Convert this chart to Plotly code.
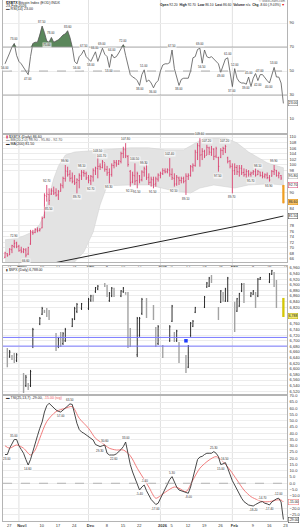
import plotly.graph_objects as go
import pandas as pd

# ------------------------------------------------------------------ data
START = "2025-10-26"
days = pd.date_range(START, periods=121, freq="D")
holidays = ["2025-11-27", "2025-12-25", "2026-01-01", "2026-01-19", "2026-02-16"]
trade_days = [d for d in pd.bdate_range("2025-10-27", "2026-02-23")
              if d.strftime("%Y-%m-%d") not in holidays]

tick_dates = ["2025-10-27", "2025-11-01", "2025-11-03", "2025-11-10", "2025-11-17",
              "2025-11-24", "2025-12-01", "2025-12-08", "2025-12-15", "2025-12-22",
              "2026-01-01", "2026-01-05", "2026-01-12", "2026-01-19", "2026-01-26",
              "2026-02-01", "2026-02-09", "2026-02-16", "2026-02-23"]
tick_text = ["27", "<b>Nov</b>", "3", "10", "17", "24", "<b>Dec</b>", "8", "15", "22",
             "<b>2026</b>", "5", "12", "19", "26", "<b>Feb</b>", "9", "16", "23"]
month_starts = ["2025-11-01", "2025-12-01", "2026-01-01", "2026-02-01"]

rsi_values = [56, 60, 65, 70, 73, 63, 58, 56, 53, 50,
              47, 62, 73, 74, 74, 80, 87.5, 82, 75, 74,
              78, 74, 75, 76, 78, 80, 81, 83.6, 78, 70,
              58, 56, 62, 64, 67.5, 62, 60, 58, 62, 66,
              58, 63, 69, 64, 62, 53, 64, 61, 62, 65,
              69, 72, 63, 55, 47, 45, 44, 42, 38, 47,
              51, 41, 42.5, 40, 36, 40, 42, 50, 55, 56,
              56, 57, 67.5, 52, 44, 38, 43, 44, 44, 44,
              50, 61, 62, 68, 69, 56.5, 67.5, 62, 61, 62,
              60, 58, 56, 49, 55, 60, 61, 50, 37, 52,
              44, 41, 40, 40, 39, 45, 37, 44, 48, 42,
              47, 47, 44, 42, 40, 47, 53, 45, 45, 40,
              23]
rsi_peak_idx = [4, 16, 20, 27, 34, 39, 42, 46, 51, 60, 72, 84, 96, 99, 105, 110, 116]
rsi_trough_idx = [0, 10, 18, 31, 37, 45, 58, 64, 75, 85, 93, 98, 104, 109, 114]

price_high = [68.6, 68.1, 69.9, 71.1, 72.9, 72.2, 71.1, 70.4, 69.9, 69.9,
              70.4, 76.5, 76.5, 77.1, 77.4, 77.1, 81.3, 89.7, 92.7, 91.5,
              91.5, 92.1, 91.5, 90.9, 93.3, 95.7, 99.9, 99.3, 98.1, 97.2,
              96.3, 95.1, 96.9, 98.1, 98.1, 97.5, 96.3, 96.3, 98.7, 99.3,
              103.5, 100.5, 101.7, 100.5, 99.6, 98.7, 100.5, 101.7, 101.7, 101.7,
              104.7, 106.5, 107.8, 103.5, 98.1, 97.5, 100.5, 97.5, 96.3, 98.0,
              99.3, 100.5, 96.9, 95.7, 95.7, 95.7, 96.9, 97.5, 98.7, 98.7,
              98.7, 102.4, 98.7, 96.9, 96.3, 95.7, 95.7, 95.7, 96.9, 96.9,
              99.9, 100.5, 105.4, 107.8, 109.6, 106.0, 105.4, 107.2, 106.5, 106.8,
              106.0, 106.5, 102.9, 106.0, 106.5, 107.2, 102.9, 101.7, 100.5, 100.5,
              99.9, 99.9, 99.9, 98.7, 98.4, 98.1, 97.5, 98.1, 98.7, 98.1,
              97.5, 97.5, 96.9, 97.2, 96.3, 98.1, 99.9, 98.1, 97.5, 96.3,
              92.7]
price_low = [66.3, 66.8, 67.4, 68.1, 69.9, 69.9, 68.6, 68.1, 68.1, 66.6,
             67.4, 71.1, 74.7, 75.3, 75.6, 75.9, 77.1, 80.7, 86.7, 85.5,
             89.1, 89.1, 88.5, 87.3, 90.3, 91.5, 93.9, 95.7, 93.9, 93.3,
             92.7, 89.7, 91.5, 94.5, 95.7, 94.5, 93.3, 92.7, 93.9, 96.3,
             95.1, 98.1, 98.7, 97.5, 96.0, 93.3, 95.7, 98.7, 99.3, 99.9,
             100.5, 102.4, 102.4, 99.3, 92.1, 93.3, 92.7, 91.5, 93.3, 94.0,
             95.7, 94.5, 92.7, 92.1, 91.5, 92.1, 93.9, 95.1, 96.3, 96.9,
             96.9, 95.7, 94.5, 92.1, 92.4, 92.7, 93.3, 93.3, 89.1, 94.5,
             95.7, 97.5, 99.3, 101.7, 99.3, 101.7, 102.4, 103.5, 103.5, 103.2,
             101.7, 102.4, 97.5, 102.4, 103.5, 104.2, 100.5, 98.7, 89.7, 96.3,
             96.3, 95.7, 96.3, 95.7, 95.4, 95.7, 95.7, 96.3, 95.7, 96.3,
             95.7, 95.1, 95.1, 94.8, 93.9, 95.7, 96.3, 95.7, 95.1, 94.5,
             86.1]
price_open = [66.6, 67.9, 67.5, 69.3, 70.5, 71.8, 70.6, 69.2, 68.6, 69.2,
              67.8, 71.4, 75.6, 75.6, 76.5, 76.3, 77.2, 80.9, 88.6, 89.2,
              89.4, 90.5, 89.9, 89.1, 90.4, 92.4, 95.0, 97.6, 96.6, 95.2,
              94.1, 93.6, 94.3, 96.0, 97.2, 96.8, 95.3, 94.2, 95.6, 97.8,
              98.6, 99.5, 99.0, 100.8, 98.3, 97.2, 96.5, 99.7, 100.7, 100.3,
              101.2, 104.1, 105.4, 103.0, 97.6, 93.8, 96.0, 94.3, 96.0, 94.6,
              97.3, 98.4, 95.5, 93.7, 94.6, 93.1, 94.8, 96.2, 96.8, 97.8,
              97.5, 98.0, 96.5, 95.1, 93.1, 95.2, 94.3, 95.1, 94.2, 95.8,
              96.1, 99.2, 99.7, 104.4, 106.8, 103.6, 104.8, 103.4, 106.1, 104.5,
              105.6, 103.1, 102.6, 102.7, 105.1, 105.8, 102.5, 101.3, 99.4, 97.9,
              99.0, 97.4, 98.7, 97.2, 96.5, 97.5, 96.5, 97.1, 97.5, 96.4,
              97.4, 96.1, 95.9, 96.3, 95.3, 95.9, 97.5, 98.0, 96.2, 96.1,
              92.2]
price_close = [68.2, 67.2, 69.5, 70.8, 71.6, 70.4, 69.0, 68.8, 69.4, 67.4,
               70.1, 75.8, 75.4, 76.6, 76.2, 76.8, 80.6, 88.9, 89.4, 87.1,
               90.6, 89.8, 89.0, 90.2, 92.6, 95.1, 97.8, 96.4, 95.1, 94.0,
               93.4, 94.6, 96.2, 97.3, 96.9, 95.2, 94.4, 95.8, 98.0, 98.8,
               99.4, 99.2, 101.1, 98.4, 97.0, 96.4, 99.8, 100.9, 100.2, 101.4,
               104.0, 105.6, 103.2, 100.1, 93.5, 96.2, 94.1, 96.8, 94.5, 97.4,
               98.6, 95.3, 93.6, 94.8, 92.9, 94.9, 96.3, 96.9, 97.9, 97.4,
               98.2, 96.6, 95.3, 93.0, 95.5, 94.4, 95.0, 94.0, 95.9, 96.2,
               99.3, 99.8, 104.6, 106.9, 103.5, 104.9, 103.2, 106.3, 104.6, 105.7,
               103.0, 105.8, 99.4, 105.2, 105.9, 106.6, 101.2, 99.5, 97.8, 99.1,
               97.5, 98.8, 97.1, 96.4, 97.6, 96.6, 97.0, 97.6, 96.3, 97.6,
               96.2, 95.8, 96.4, 95.4, 94.5, 97.6, 98.2, 96.1, 96.9, 95.2,
               86.6]
price_high_idx = [4, 18, 26, 33, 40, 42, 52, 56, 60, 71, 84, 87, 95, 109, 116]
price_low_idx = [9, 19, 31, 37, 45, 54, 57, 64, 73, 78, 92, 98, 106, 114]

bb_upper_dates = ["2025-10-26", "2025-11-01", "2025-11-07", "2025-11-10", "2025-11-12",
                  "2025-11-14", "2025-11-16", "2025-11-18", "2025-11-21", "2025-11-25",
                  "2025-12-06", "2025-12-19", "2025-12-27", "2026-01-03", "2026-01-11",
                  "2026-01-16", "2026-01-20", "2026-01-29", "2026-02-03", "2026-02-08",
                  "2026-02-16", "2026-02-23"]
bb_upper = [72.9, 73.6, 75.8, 78.5, 82.5, 89.0, 95.0, 99.5, 103.5, 104.6,
            105.4, 106.1, 106.1, 105.4, 105.4, 107.9, 109.7, 109.7, 107.9, 104.6,
            100.7, 98.9]
bb_lower_dates = ["2025-10-26", "2025-11-06", "2025-11-21", "2025-11-25", "2025-11-29",
                  "2025-12-03", "2025-12-06", "2025-12-09", "2025-12-19", "2025-12-27",
                  "2026-01-05", "2026-01-14", "2026-01-18", "2026-01-24", "2026-02-02",
                  "2026-02-08", "2026-02-17", "2026-02-23"]
bb_lower = [64.0, 63.5, 64.2, 64.9, 68.5, 75.7, 85.5, 92.4, 92.7, 92.7,
            90.9, 89.8, 91.6, 92.7, 91.6, 92.7, 93.1, 92.7]

ma200_dates = ["2025-10-26", "2025-11-10", "2025-11-25", "2025-12-10", "2025-12-25",
               "2026-01-09", "2026-01-24", "2026-02-08", "2026-02-23"]
ma200_values = [61.0, 63.5, 66.0, 68.5, 71.0, 73.6, 76.1, 78.7, 81.5]

spx_high = [6674, 6667, 6649, 6656, 6656, 6585, 6578, 6549, 6596, 6746,
            6785, 6821, 6810, 6817, 6810, 6728, 6714, 6731, 6731, 6746,
            6781, 6821, 6835, 6835, 6853, 6864, 6864, 6892, 6899, 6906,
            6899, 6874, 6892, 6889, 6881, 6892, 6874, 6874, 6746, 6785,
            6785, 6853, 6853, 6828, 6749, 6756, 6685, 6756, 6828, 6731,
            6739, 6696, 6649, 6685, 6767, 6774, 6821, 6860, 6910, 6928,
            6935, 6821, 6881, 6874, 6889, 6928, 6839, 6853, 6871, 6906,
            6906, 6874, 6881, 6874, 6924, 6928, 6942, 6953, 6946, 6917,
            6853]
spx_low = [6606, 6639, 6631, 6621, 6624, 6514, 6535, 6524, 6535, 6674,
           6756, 6792, 6799, 6785, 6774, 6664, 6674, 6678, 6685, 6696,
           6749, 6774, 6799, 6810, 6810, 6839, 6839, 6871, 6881, 6892,
           6856, 6839, 6856, 6856, 6856, 6871, 6864, 6674, 6678, 6642,
           6714, 6792, 6781, 6774, 6678, 6685, 6639, 6696, 6767, 6696,
           6696, 6621, 6585, 6603, 6714, 6749, 6799, 6817, 6889, 6892,
           6906, 6774, 6835, 6839, 6839, 6839, 6731, 6803, 6821, 6874,
           6835, 6856, 6864, 6817, 6856, 6917, 6906, 6935, 6892, 6817,
           6785]
spx_open = [6665, 6645, 6645, 6650, 6630, 6580, 6540, 6545, 6540, 6680,
            6760, 6795, 6808, 6812, 6805, 6720, 6680, 6700, 6690, 6700,
            6752, 6778, 6805, 6815, 6815, 6845, 6860, 6875, 6885, 6902,
            6895, 6843, 6860, 6885, 6860, 6875, 6870, 6870, 6740, 6650,
            6720, 6798, 6848, 6820, 6742, 6690, 6680, 6700, 6770, 6728,
            6700, 6692, 6645, 6606, 6718, 6752, 6802, 6820, 6892, 6895,
            6930, 6818, 6838, 6870, 6842, 6842, 6835, 6806, 6824, 6878,
            6902, 6860, 6866, 6870, 6860, 6920, 6910, 6938, 6942, 6912,
            6850]
spx_close = [6615, 6660, 6635, 6628, 6650, 6520, 6570, 6530, 6590, 6740,
             6780, 6815, 6802, 6790, 6780, 6670, 6708, 6685, 6725, 6740,
             6776, 6815, 6830, 6832, 6848, 6860, 6843, 6890, 6895, 6895,
             6860, 6870, 6888, 6860, 6878, 6888, 6867, 6680, 6685, 6780,
             6780, 6848, 6786, 6780, 6684, 6750, 6645, 6750, 6824, 6700,
             6735, 6625, 6590, 6680, 6763, 6770, 6818, 6856, 6906, 6924,
             6910, 6778, 6878, 6842, 6885, 6924, 6735, 6850, 6868, 6902,
             6838, 6870, 6878, 6820, 6920, 6926, 6938, 6950, 6896, 6822,
             6788]
support_levels = [6712, 6681]
marker_date = ["2026-01-12"]
marker_value = [6700]

osc_values = [23, 23, 28, 32, 35, 35, 30, 27, 24, 19,
              14.6, 19, 26, 31, 38, 44, 49, 57, 62, 64,
              62, 60, 58.6, 57.5, 57, 58.5, 60, 62, 63.5, 63,
              55, 48, 43, 41, 40, 38.6, 37, 36, 34.6, 31,
              30, 29.3, 30, 30.6, 24, 22.6, 22.6, 22.6, 23.5, 25,
              27, 29.3, 33, 24, 15, 9, 4, -1, -5.4, -3,
              -1.4, -6, -10, -13, -15, -17, -16, -12, -8, -5,
              -1.4, 3, 5.3, 1.3, -3, -5.4, -6, -6.7, -7.5, -8,
              -3, 5, 12, 19, 21, 21.5, 23, 24, 24, 24,
              25.3, 24, 21.3, 15, 15.5, 16.5, 12, 6, 2, -1.4,
              -5, -9.4, -12, -14.7, -16, -17.4, -17.8, -18.2, -17, -16,
              -15, -14.7, -16, -16.5, -17.4, -15, -13.4, -12.5, -12, -15,
              -29]
osc_peak_idx = [4, 28, 43, 52, 60, 72, 90, 95, 111, 118]
osc_trough_idx = [1, 10, 24, 41, 47, 58, 65, 79, 93, 107, 114]
sig_dates = ["2025-10-26", "2025-10-28", "2025-10-31", "2025-11-03", "2025-11-06",
             "2025-11-08", "2025-11-10", "2025-11-13", "2025-11-17", "2025-11-21",
             "2025-11-24", "2025-11-27", "2025-12-01", "2025-12-04", "2025-12-07",
             "2025-12-10", "2025-12-13", "2025-12-16", "2025-12-19", "2025-12-22",
             "2025-12-25", "2025-12-27", "2025-12-30", "2026-01-01", "2026-01-04",
             "2026-01-07", "2026-01-09", "2026-01-12", "2026-01-15", "2026-01-18",
             "2026-01-22", "2026-01-25", "2026-01-28", "2026-01-31", "2026-02-03",
             "2026-02-06", "2026-02-09", "2026-02-12", "2026-02-14", "2026-02-17",
             "2026-02-20", "2026-02-22", "2026-02-23"]
sig_values = [30, 28, 30.6, 28, 22.6, 26.6, 36, 49.3, 57.3, 60,
              61.3, 52, 44, 36, 32, 28, 26.6, 26.6, 22, 12,
              3, -3, -12, -10, -6, -3, -4, -6.7, 2.6, 12,
              18.6, 21.3, 17.3, 10.6, 2.6, -5.4, -10.7, -13.4, -14.7, -14.7,
              -13.4, -13.4, -15]

# ------------------------------------------------------------------ layout helpers
FIG_H = 529
PLOT_W = 284
def py(pix):
    return 1 - pix / FIG_H
def px(pix):
    return (pix - 3) / PLOT_W

FONT = "Liberation Sans, Arial, sans-serif"
PRICE_RED = "#d9416e"

def ticks_avoiding(lo, hi, step, avoid, gap):
    vals = []
    v = lo
    while v <= hi + 1e-9:
        if all(abs(v - a) > gap for a in avoid):
            vals.append(round(v, 4))
        v += step
    return vals

fig = go.Figure()

# ---------------- panel 1 : RSI
fig.add_trace(go.Scatter(x=days, y=[70] * len(days), mode="lines",
                         line=dict(width=0, color="rgba(0,0,0,0)"),
                         xaxis="x", yaxis="y", hoverinfo="skip"))
fig.add_trace(go.Scatter(x=days, y=[max(v, 70) for v in rsi_values], mode="lines",
                         line=dict(width=0, color="rgba(0,0,0,0)"), fill="tonexty",
                         fillcolor="#5b875b", xaxis="x", yaxis="y", hoverinfo="skip"))
fig.add_trace(go.Scatter(x=days, y=rsi_values, mode="lines",
                         line=dict(color="#555555", width=0.8), xaxis="x", yaxis="y"))

# ---------------- panel 2 : Bollinger band + MA (base), price bars (overlay)
fig.add_trace(go.Scatter(x=bb_upper_dates + bb_lower_dates[::-1],
                         y=bb_upper + bb_lower[::-1], mode="lines", fill="toself",
                         fillcolor="#e3e3e3", line=dict(color="#cfcfcf", width=0.5),
                         xaxis="x2", yaxis="y2", hoverinfo="skip"))
fig.add_trace(go.Scatter(x=ma200_dates, y=ma200_values, mode="lines",
                         line=dict(color="#222222", width=1.0), xaxis="x2", yaxis="y2"))
fig.add_trace(go.Ohlc(x=days, open=price_open, high=price_high, low=price_low,
                      close=price_close, tickwidth=0.35,
                      increasing=dict(line=dict(color=PRICE_RED, width=0.9)),
                      decreasing=dict(line=dict(color=PRICE_RED, width=0.9)),
                      xaxis="x2", yaxis="y5"))
fig.add_trace(go.Scatter(x=[days[-1], days[-1]], y=[price_low[-1], price_high[-1]],
                         mode="lines", line=dict(color="#f0a020", width=2.2),
                         xaxis="x2", yaxis="y5"))

# ---------------- panel 3 : bars
fig.add_trace(go.Ohlc(x=trade_days, open=spx_open, high=spx_high, low=spx_low,
                      close=spx_close, tickwidth=0.3,
                      increasing=dict(line=dict(color="#1a1a1a", width=0.9)),
                      decreasing=dict(line=dict(color="#a3a3a3", width=1.4)),
                      xaxis="x3", yaxis="y3"))
fig.add_trace(go.Scatter(x=[trade_days[-1], trade_days[-1]], y=[spx_low[-1], spx_high[-1]],
                         mode="lines", line=dict(color="#d6c800", width=2.2),
                         xaxis="x3", yaxis="y6"))
fig.add_trace(go.Scatter(x=marker_date, y=marker_value, mode="markers",
                         marker=dict(symbol="square", size=3.5, color="#1f3cff"),
                         xaxis="x3", yaxis="y6"))

# ---------------- panel 4 : oscillator
fig.add_trace(go.Scatter(x=sig_dates, y=sig_values, mode="lines",
                         line=dict(color="#ef6f6f", width=0.9, shape="spline", smoothing=0.8),
                         xaxis="x4", yaxis="y4"))
fig.add_trace(go.Scatter(x=days, y=osc_values, mode="lines",
                         line=dict(color="#333333", width=0.9), xaxis="x4", yaxis="y4"))

# ------------------------------------------------------------------ axes
x_range = ["2025-10-25 03:21", "2026-02-24 13:12"]
def xaxis(anchor, labels):
    return dict(type="date", range=x_range, anchor=anchor, showgrid=False,
                showline=True, mirror=True, linecolor="#b4b4b4", linewidth=0.6,
                ticks="", rangeslider=dict(visible=False), tickvals=tick_dates,
                ticktext=tick_text, tickangle=0, showticklabels=labels,
                tickfont=dict(size=4.0, color="#333333", family=FONT),
                ticklabelshift=2, ticklabelstandoff=0, automargin=False, fixedrange=True)

def yaxis(anchor, dom, rng, **kw):
    d = dict(anchor=anchor, domain=dom, range=rng, side="right", showgrid=True,
             gridcolor="#ececec", gridwidth=0.5, zeroline=False, showline=True,
             mirror=True, linecolor="#b4b4b4", linewidth=0.6, ticks="",
             ticklabelstandoff=1, tickfont=dict(size=4, color="#333333", family=FONT),
             automargin=False, fixedrange=True)
    d.update(kw)
    return d

def overlay(base, rng):
    return dict(overlaying=base, anchor="x2" if base == "y2" else "x3", range=rng,
                visible=False, showgrid=False, zeroline=False, fixedrange=True)

p2_range = [64.9, 111.1]
p3_range = [6506.5, 6967]
bb_mid_last = (bb_upper[-1] + bb_lower[-1]) / 2
p2_boxes = [bb_mid_last, bb_lower[-1], price_close[-1], ma200_values[-1]]

fig.update_layout(
    width=300, height=529, margin=dict(l=3, r=13, t=0, b=0),
    paper_bgcolor="white", plot_bgcolor="white", showlegend=False,
    font=dict(family=FONT, size=4, color="#333333"),
    xaxis=xaxis("y", False), xaxis2=xaxis("y2", True),
    xaxis3=xaxis("y3", False), xaxis4=xaxis("y4", True),
    yaxis=yaxis("x", [py(134), 1.0], [-2.5, 109.2], tickvals=[10, 30, 50, 70, 90]),
    yaxis2=yaxis("x2", [py(262), py(134)], p2_range,
                 tickvals=ticks_avoiding(66, 110, 2, p2_boxes, 1.5)),
    yaxis3=yaxis("x3", [py(395), py(266)], p3_range, tickformat=",d",
                 tickvals=ticks_avoiding(6520, 6960, 20, [spx_close[-1]], 12)),
    yaxis4=yaxis("x4", [py(521), py(395)], [-30.2, 70.6], tickformat=".1f",
                 tickvals=ticks_avoiding(-25, 70, 5, [osc_values[-1], sig_values[-1]], 3)),
    yaxis5=overlay("y2", p2_range),
    yaxis6=overlay("y3", p3_range),
)

# ------------------------------------------------------------------ shapes
shapes = []
for m in month_starts:
    shapes.append(dict(type="line", xref="x", yref="paper", x0=m, x1=m,
                       y0=py(521), y1=1, layer="below",
                       line=dict(color="#d9d9d9", width=0.8)))
for lvl, dash in [(70, "solid"), (30, "solid"), (50, "dash")]:
    shapes.append(dict(type="line", xref="paper", yref="y", x0=0, x1=1, y0=lvl, y1=lvl,
                       line=dict(color="#9a9a9a", width=0.8, dash=dash)))
shapes.append(dict(type="line", xref="paper", yref="y4", x0=0, x1=1, y0=0, y1=0,
                   line=dict(color="#9a9a9a", width=0.7, dash="dash")))
for lvl in support_levels:
    shapes.append(dict(type="line", xref="paper", yref="y3", x0=0, x1=1, y0=lvl, y1=lvl,
                       line=dict(color="#7a7aff", width=1.0)))
fig.update_layout(shapes=shapes)

# ------------------------------------------------------------------ annotations
ann = []
def note(text, xpix, ypix, size=3.6, color="#222222", anchor="left"):
    ann.append(dict(text=text, xref="paper", yref="paper", x=px(xpix), y=py(ypix),
                    xanchor=anchor, yanchor="middle", showarrow=False,
                    font=dict(size=size, color=color, family=FONT)))

def point_labels(xs, ys, idxs, xa, ya, above):
    for i in idxs:
        ann.append(dict(x=xs[i], y=ys[i], xref=xa, yref=ya, text=f"{ys[i]:.2f}",
                        showarrow=False, yanchor="bottom" if above else "top",
                        yshift=1 if above else -1, borderpad=0,
                        bgcolor="rgba(255,255,255,0.7)",
                        font=dict(size=3.0, color="#333333", family=FONT)))

def value_box(y, yref, text, bg="white", border="#777777", size=3.4):
    ann.append(dict(x=1.003, y=y, xref="paper", yref=yref, text=text, showarrow=False,
                    xanchor="left", yanchor="middle", bgcolor=bg, bordercolor=border,
                    borderwidth=0.5, borderpad=0.3,
                    font=dict(size=size, color="#111111", family=FONT)))

chg = price_close[-1] - price_close[-2]
chg_pct = chg / price_close[-2] * 100

# header - panel 1
note("<b>$XBTX</b> Bitcoin Index (EOD) INDX", 4, 2.6)
note("23-Feb-2026", 4, 6.0)
note("<span style='color:#555'>▬</span> RSI(14) %.2f" % rsi_values[-1], 4, 9.4)
note("© StockCharts.com", 287, 1.4, size=3.0, color="#555555", anchor="right")
note(("<b>Open</b> %.2f  <b>High</b> %.2f  <b>Low</b> %.2f  <b>Last</b> %.2f  "
      "<b>Volume</b> n/a  <b>Chg</b> %.2f (%.2f%%) <span style='color:#d00'>▼</span>")
     % (price_open[-1], price_high[-1], price_low[-1], price_close[-1], chg, chg_pct),
     287, 5.4, size=3.3, anchor="right")

# header - panel 2
note("<span style='color:%s'>▮</span> $XBTX (Daily) %.2f" % (PRICE_RED, price_close[-1]),
     4, 137.2)
note("<span style='color:#aaa'>▬</span> BB(20,2.0) %.2f - %.2f - %.2f"
     % (bb_upper[-1], bb_mid_last, bb_lower[-1]), 4, 140.4, color="#555555")
note("<span style='color:#222'>▬</span> MA(200) %.2f" % ma200_values[-1], 4, 143.6)

# header - panel 3
note("<span style='color:#222'>▮</span> $SPX (Daily) %s" % f"{spx_close[-1]:,.2f}", 4, 270.4,
     size=3.4)

# header - panel 4
note("<span style='color:#333'>▬</span> TSI(25,13,7) %.2f, <span style='color:#e55'>%.2f (sig)</span>"
     % (osc_values[-1], sig_values[-1]), 4, 397.8)

# point labels
point_labels(days, rsi_values, rsi_peak_idx, "x", "y", True)
point_labels(days, rsi_values, rsi_trough_idx, "x", "y", False)
point_labels(days, price_high, price_high_idx, "x2", "y2", True)
point_labels(days, price_low, price_low_idx, "x2", "y2", False)
point_labels(days, osc_values, osc_peak_idx, "x4", "y4", True)
point_labels(days, osc_values, osc_trough_idx, "x4", "y4", False)

# right-side value boxes
value_box(rsi_values[-1], "y", "%.2f" % rsi_values[-1])
value_box(bb_mid_last, "y2", "%.2f" % bb_mid_last, border="#aaaaaa")
value_box(bb_lower[-1], "y2", "%.2f" % bb_lower[-1], border=PRICE_RED)
value_box(price_close[-1], "y2", "%.2f" % price_close[-1], bg="#f7c46a", border="#e08a00")
value_box(ma200_values[-1], "y2", "%.2f" % ma200_values[-1], border="#444444")
value_box(spx_close[-1], "y3", f"{spx_close[-1]:,.0f}", bg="#f2ea70", border="#b8a800")
value_box(sig_values[-1], "y4", "%.2f" % sig_values[-1], border="#ef6f6f")
value_box(osc_values[-1], "y4", "%.2f" % osc_values[-1], border="#333333")

fig.update_layout(annotations=ann)

fig.write_html("out.html")
